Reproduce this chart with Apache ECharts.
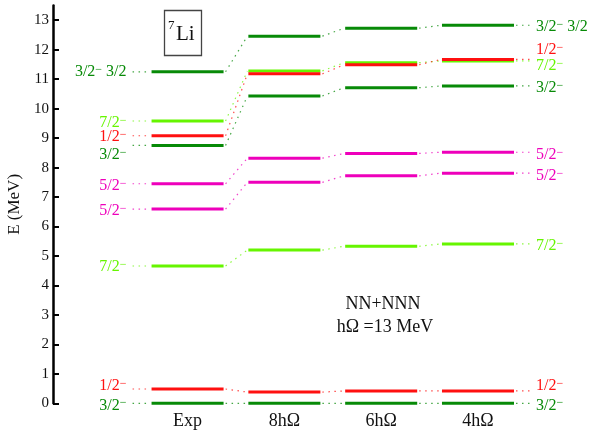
<!DOCTYPE html>
<html><head><meta charset="utf-8">
<script src="https://cdn.jsdelivr.net/npm/echarts@6/dist/echarts.min.js"></script>
<style>html,body{margin:0;padding:0;background:#fff}#c{width:603px;height:430px}</style>
</head><body><div id="c"></div>
<script>
// ---- data ----
const columns = ['Exp', '8hΩ', '6hΩ', '4hΩ'];
const yTickValues = [0,1,2,3,4,5,6,7,8,9,10,11,12,13];
const gs_3_2   = [0, 0, 0, 0];
const st_1_2a  = [0.485, 0.38, 0.42, 0.42];
const st_7_2a  = [4.66, 5.20, 5.33, 5.41];
const st_5_2a  = [6.59, 7.50, 7.72, 7.81];
const st_5_2b  = [7.45, 8.32, 8.48, 8.52];
const st_3_2b  = [8.75, 10.43, 10.71, 10.77];
const st_7_2b  = [9.58, 11.28, 11.56, 11.62];
const st_1_2b  = [9.08, 11.18, 11.49, 11.67];
const st_3_2T  = [11.25, 12.46, 12.73, 12.83];
const stateValues = [gs_3_2, st_1_2a, st_7_2a, st_5_2a, st_5_2b, st_3_2b, st_7_2b, st_1_2b, st_3_2T];
const stateLabels = ['3/2{s|−}', '1/2{s|−}', '7/2{s|−}', '5/2{s|−}', '5/2{s|−}', '3/2{s|−}', '7/2{s|−}', '1/2{s|−}', '3/2{s|−} 3/2'];

// ---- styles / layout ----
const DG = '#078a07', LG = '#66f500', RD = '#ff1010', MG = '#ee00bb';
const stateColors = [DG, RD, LG, MG, MG, DG, LG, RD, DG];
const leftDy  = [2, -3, 1, 2, 2, 9, 2, 1, 0];
const rightDy = [2, -5, 2, 3, 3, 2, 5, -10, 2];
const FONT = '"Liberation Serif", "DejaVu Serif", serif';
const HW = 0.372;

function makeRender(si) {
  return function (params, api) {
    const i = api.value(0), v = api.value(1);
    const vals = stateValues[si];
    const col = stateColors[si];
    const p1 = api.coord([i - HW, v]);
    const p2 = api.coord([i + HW, v]);
    const children = [];
    const dotted = { stroke: col, lineWidth: 1.2, lineDash: [1.5, 4.5], opacity: 0.75 };
    if (i < vals.length - 1) {
      const n = api.coord([i + 1 - HW, vals[i + 1]]);
      children.push({ type: 'line', shape: { x1: p2[0] + 2, y1: p2[1], x2: n[0] - 1, y2: n[1] }, style: dotted });
    }
    const rich = { s: { fontSize: 12, fontFamily: FONT, fill: col, verticalAlign: 'top', lineHeight: 10 } };
    if (i === 0) {
      children.push({ type: 'line', shape: { x1: p1[0] - 19, y1: p1[1], x2: p1[0] - 1, y2: p1[1] }, style: dotted });
      children.push({ type: 'text', x: p1[0] - 25, y: p1[1] + leftDy[si],
        style: { text: stateLabels[si], fill: col, fontSize: 16, fontFamily: FONT, align: 'right', verticalAlign: 'middle', rich: rich } });
    }
    if (i === vals.length - 1) {
      children.push({ type: 'line', shape: { x1: p2[0] + 2, y1: p2[1], x2: p2[0] + 19, y2: p2[1] }, style: dotted });
      children.push({ type: 'text', x: p2[0] + 22, y: p2[1] + rightDy[si],
        style: { text: stateLabels[si], fill: col, fontSize: 16, fontFamily: FONT, align: 'left', verticalAlign: 'middle', rich: rich } });
    }
    children.push({ type: 'line', shape: { x1: p1[0], y1: p1[1], x2: p2[0], y2: p2[1] }, style: { stroke: col, lineWidth: 3 } });
    return { type: 'group', children: children };
  };
}

const series = stateValues.map((vals, si) => ({
  type: 'custom',
  renderItem: makeRender(si),
  data: vals.map((v, i) => [i, v]),
  encode: { x: 0, y: 1 },
  clip: false,
  silent: true
}));

const chart = echarts.init(document.getElementById('c'), null, { renderer: 'canvas' });
chart.setOption({
  animation: false,
  backgroundColor: '#fff',
  grid: { left: 53, right: 4, top: 5.5, bottom: 26.7, containLabel: false, outerBoundsMode: 'none' },
  xAxis: {
    type: 'value', min: -1.39, max: 4.25,
    axisLine: { show: false, onZero: false }, axisTick: { show: false }, splitLine: { show: false },
    axisLabel: { customValues: [0, 1, 2, 3], formatter: v => columns[Math.round(v)],
      fontSize: 18, fontFamily: FONT, color: '#111', margin: 9 }
  },
  yAxis: {
    type: 'value', min: 0, max: 13.5,
    name: 'E (MeV)', nameLocation: 'middle', nameGap: 24,
    nameTextStyle: { fontSize: 17, fontFamily: FONT, color: '#111' },
    axisLine: { show: true, onZero: false, lineStyle: { color: '#000', width: 2.5 } },
    axisTick: { show: true, inside: true, length: 6, customValues: yTickValues, lineStyle: { color: '#000', width: 2 } },
    axisLabel: { customValues: yTickValues, fontSize: 15, fontFamily: FONT, color: '#111', margin: 4 },
    splitLine: { show: false }
  },
  graphic: [
    { type: 'rect', left: 162, top: 8, shape: { width: 37, height: 45 }, style: { fill: 'none', stroke: '#444', lineWidth: 1.3 } },
    { type: 'text', left: 168, top: 19, style: { text: '7', fontSize: 13, fontFamily: FONT, fill: '#111' } },
    { type: 'text', left: 176, top: 24, style: { text: 'Li', fontSize: 21, fontFamily: FONT, fill: '#111' } },
    { type: 'text', x: 383, y: 304, style: { text: 'NN+NNN', fontSize: 18, fontFamily: FONT, fill: '#111', align: 'center', verticalAlign: 'middle' } },
    { type: 'text', x: 385, y: 327, style: { text: 'hΩ =13 MeV', fontSize: 18, fontFamily: FONT, fill: '#111', align: 'center', verticalAlign: 'middle' } }
  ],
  series: series
});
</script>
</body></html>
